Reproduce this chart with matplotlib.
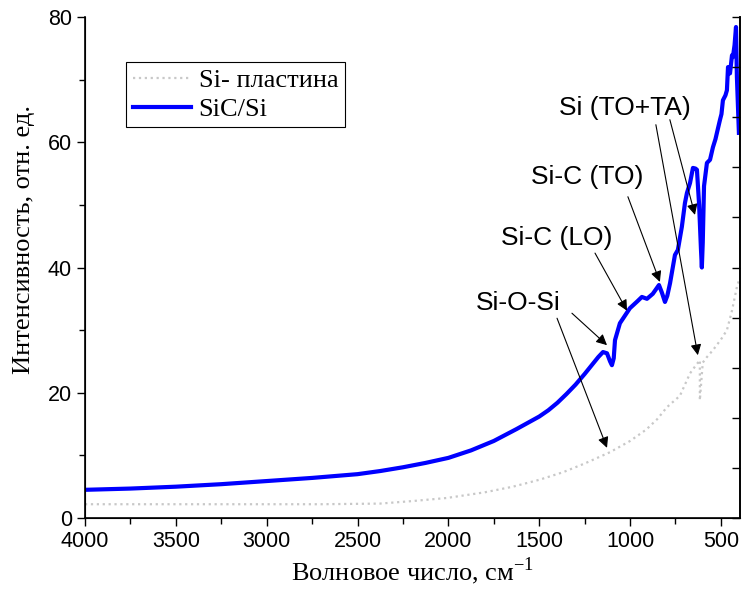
import numpy as np
import matplotlib.pyplot as plt
from matplotlib.ticker import MultipleLocator

# ----------------------------------------------------------------------
#  Data
# ----------------------------------------------------------------------
# SiC/Si film spectrum
sic_wn = [4000, 3750, 3500, 3250, 3000, 2750, 2500, 2375, 2250, 2125, 2000, 1875, 1750,
          1625, 1500, 1450, 1400, 1350, 1300, 1250, 1200, 1175, 1149, 1127, 1110, 1100,
          1090, 1083, 1056, 1001, 960, 935, 907, 875, 841, 825, 808, 795, 780, 753, 737,
          715, 698, 687, 670, 654, 640, 632, 620, 610, 605, 600, 593, 577, 560, 544, 530,
          522, 505, 497, 489, 475, 467, 461, 450, 439, 434, 425, 417, 412, 401]
sic_int = [4.5, 4.7, 5.0, 5.4, 5.9, 6.4, 7.0, 7.5, 8.1, 8.8, 9.6, 10.8, 12.3,
           14.2, 16.2, 17.2, 18.4, 19.8, 21.3, 23.0, 24.8, 25.7, 26.5, 26.3, 25.0, 24.4,
           25.5, 28.4, 31.1, 33.5, 34.6, 35.3, 35.0, 35.8, 37.2, 36.0, 34.5, 35.5, 37.5, 42.0, 42.8,
           46.5, 50.3, 51.9, 53.5, 55.9, 55.8, 55.6, 50.0, 43.0, 40.0, 44.0, 53.0, 56.7, 57.2, 59.2, 60.5,
           61.5, 63.6, 64.5, 66.7, 67.5, 68.3, 72.0, 71.0, 73.9, 73.6, 75.5, 78.4, 70.4, 61.5]

# bare Si wafer spectrum
si_wn = [4000, 3500, 3000, 2700, 2377, 2200, 2008, 1800, 1645, 1500, 1370, 1250,
         1111, 1000, 912, 850, 797, 726, 670, 640, 616, 616, 600, 580, 544,
         500, 467, 440, 412, 400]
si_int = [2.2, 2.2, 2.2, 2.2, 2.3, 2.7, 3.2, 4.1, 5.0, 6.1, 7.3, 8.7,
          10.5, 12.3, 14.1, 15.8, 17.7, 19.5, 23.1, 24.3, 25.2, 18.8, 24.8, 25.6, 26.8,
          28.5, 30.0, 33.0, 36.9, 38.0]

series_labels = ['Si- пластина', 'SiC/Si']

# band labels: text, text position (wn, int), list of arrow (start, tip)
band_labels = ['Si (TO+TA)', 'Si-C (TO)', 'Si-C (LO)', 'Si-O-Si']
band_text_pos = [(1028, 65.4), (1237, 54.5), (1402, 44.7), (1617, 34.3)]
band_arrows = [
    [((858, 62.8), (627, 26.0)), ((781, 63.6), (643, 48.4))],
    [((1012, 51.3), (836, 37.7))],
    [((1193, 42.3), (1017, 33.1))],
    [((1320, 32.7), (1127, 27.6)), ((1402, 31.9), (1127, 11.2))],
]

x_label = 'Волновое число, см$^{-1}$'
y_label = 'Интенсивность, отн. ед.'

# ----------------------------------------------------------------------
#  Plot
# ----------------------------------------------------------------------
plt.rcParams['font.family'] = ['Liberation Sans', 'DejaVu Sans']
plt.rcParams['mathtext.fontset'] = 'custom'
plt.rcParams['mathtext.rm'] = 'Liberation Serif'

fig = plt.figure(figsize=(7.47, 5.9), dpi=100)
ax = fig.add_axes([85/747, 1 - 518/590, 655/747, 501/590])

ax.plot(si_wn, si_int, linestyle=':', color='#c8c8c8', lw=1.6, label=series_labels[0])
ax.plot(sic_wn, sic_int, '-', color='#0000ff', lw=3, label=series_labels[1])

ax.set_xlim(4000, 395)
ax.set_ylim(0, 80)
ax.xaxis.set_major_locator(MultipleLocator(500))
ax.xaxis.set_minor_locator(MultipleLocator(250))
ax.yaxis.set_major_locator(MultipleLocator(20))
ax.yaxis.set_minor_locator(MultipleLocator(10))
ax.tick_params(which='major', direction='out', length=6, width=1, labelsize=15.5)
ax.tick_params(which='minor', direction='out', length=4, width=1)
ax.spines['top'].set_visible(False)
for s in ['left', 'bottom', 'right']:
    ax.spines[s].set_linewidth(1.2)

# right axis: ticks only, pointing inward
ax2 = ax.twinx()
ax2.set_ylim(0, 80)
ax2.set_yticks(np.arange(0, 81, 8))
ax2.tick_params(direction='in', length=6, width=1, labelright=False)
ax2.spines['top'].set_visible(False)
ax2.spines['right'].set_linewidth(1.2)

ax.set_xlabel(x_label, family='Liberation Serif', fontsize=19, labelpad=2)
ax.set_ylabel(y_label, family='Liberation Serif', fontsize=19)
ax.yaxis.set_label_coords(-0.076, 0.555)

for i in range(len(band_labels)):
    ax.text(band_text_pos[i][0], band_text_pos[i][1], band_labels[i],
            fontsize=19, ha='center', va='center')
    for start, tip in band_arrows[i]:
        ax.annotate('', xy=tip, xytext=start,
                    arrowprops=dict(arrowstyle='-|>', color='k', lw=0.8,
                                    mutation_scale=16, shrinkA=0, shrinkB=0))

leg = ax.legend(loc='upper left', bbox_to_anchor=((126-85)/655, (518-62)/501),
                borderaxespad=0, fancybox=False, frameon=True, framealpha=1,
                edgecolor='k', prop={'family': 'Liberation Serif', 'size': 19},
                handlelength=2.2, handletextpad=0.3, labelspacing=0.2, borderpad=0.25)
leg.get_frame().set_linewidth(0.8)

plt.savefig('out.png', dpi=100)
